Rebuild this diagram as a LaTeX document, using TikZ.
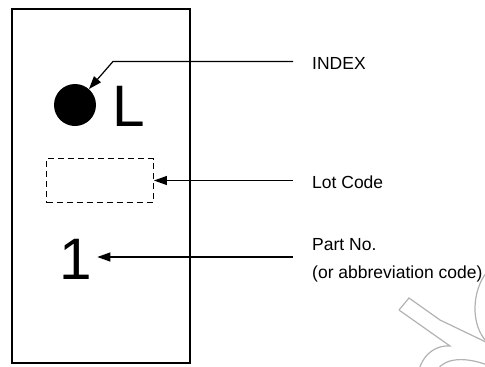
\documentclass[tikz,border=0pt]{standalone}
\usepackage{fontspec}
\setmainfont{Liberation Sans}
\usetikzlibrary{arrows.meta}

\begin{document}
\begin{tikzpicture}[x=1pt, y=-1pt,
        arr/.style={-{Triangle[length=13pt,width=9pt]}, line width=1.2pt},
        lbl/.style={anchor=base west, inner sep=0pt, font=\fontsize{17.5}{21}\selectfont},
        bigtxt/.style={anchor=base west, inner ysep=0pt, inner xsep=5pt, font=\fontsize{58.5}{60}\selectfont},
        wmline/.style={draw=black!30, line width=1.2pt}]
        \useasboundingbox (0,0) rectangle (485,367);
        % package outline and marking
        \draw[line width=1.5pt] (12,9) rectangle (190,363);
        \node[circle, fill, inner sep=0pt, minimum size=42pt] (dot) at (75,105) {};
        \node[bigtxt] (ltr) at (106.8,126) {L};
        \node[draw, dash pattern=on 6pt off 4pt, line width=1.3pt, inner sep=0pt,
            minimum width=106.6pt, minimum height=44pt] (lot) at (100,180.5) {};
        \node[bigtxt] (one) at (54.4,279.3) {1};
        % labels
        \node[lbl] (idx) at (312,69) {INDEX};
        \node[lbl] (lotlbl) at (312,188.3) {Lot Code};
        \node[lbl] (part) at (312,250.7) {Part No.};
        \node[lbl] (part2) at (312,278) {(or abbreviation code)};
        \coordinate (idxe) at (293,61.5);
        \coordinate (idxb) at (113,61.5);
        \coordinate (lote) at (293,180.5);
        \coordinate (parte) at (293,257);
        \draw[arr] (idxe) -- (idxb) -- (dot);
        \draw[arr] (lote) -- (lote -| lot.east);
        \draw[arr] (parte) -- (parte -| one.east);
        % watermark
        \begin{scope}
            \clip (0,0) rectangle (485,367);
            \draw[wmline] (399,310) -- (409,298) -- (440,320) -- (490,344);
            \draw[wmline] (399,310) -- (450,346) .. controls (438,345) and (424,352) .. (419,370);
            \draw[wmline] (437,370) .. controls (445,358) and (465,356) .. (490,366);
            \draw[wmline] (487,272) .. controls (472,290) and (470,325) .. (487,342);
        \end{scope}
\end{tikzpicture}
\end{document}
